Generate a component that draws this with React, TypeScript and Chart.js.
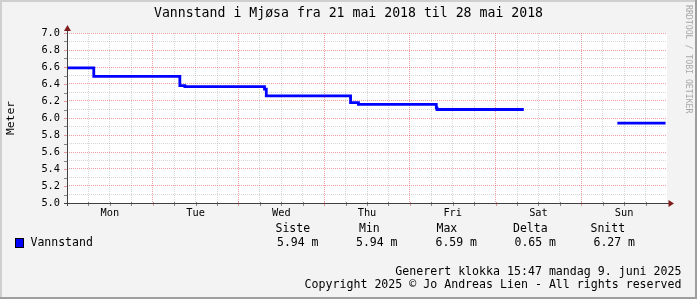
import React, { useEffect, useRef } from "react";
import { Chart, registerables } from "chart.js";

Chart.register(...registerables);

// ---- data (hours since Mon 21 May 2018 00:00) ----
const hours = [0, 7.5, 31.6, 33, 55.3, 55.8, 79.4, 81.6, 103.4, 103.6, 127.9, 128, 154.1, 167.6];
const levels: (number | null)[] = [6.59, 6.49, 6.38, 6.37, 6.34, 6.26, 6.18, 6.16, 6.12, 6.1, 6.1, null, 5.94, 5.94];
const dayLabels = ["Mon", "Tue", "Wed", "Thu", "Fri", "Sat", "Sun"];
const statHeaders = ["Siste", "Min", "Max", "Delta", "Snitt"];
const statValues = ["5.94 m", "5.94 m", "6.59 m", "0.65 m", "6.27 m"];

const title = "Vannstand i Mjøsa fra 21 mai 2018 til 28 mai 2018";
const yTitle = "Meter";
const seriesName = "Vannstand";
const footer1 = "Generert klokka 15:47 mandag 9. juni 2025";
const footer2 = "Copyright 2025 © Jo Andreas Lien - All rights reserved";
const watermark = "RRDTOOL / TOBI OETIKER";

const MONO = '"DejaVu Sans Mono", monospace';
const MINOR = "rgba(140,140,140,0.36)";
const MAJOR = "rgba(210,40,40,0.45)";
const AXIS = "#404040";
const TICK = "rgba(64,64,64,0.6)";
const ARROW = "#801c1c";
const BLANK = "rgba(0,0,0,0)";

const decor = {
  id: "rrdDecor",
  beforeDraw(chart: any) {
    const { ctx, width, height, chartArea: a } = chart;
    ctx.save();
    ctx.fillStyle = "#f3f3f3";
    ctx.fillRect(0, 0, width, height);
    ctx.fillStyle = "#cfcfcf";
    ctx.fillRect(0, 0, width, 2);
    ctx.fillRect(0, 0, 2, height);
    ctx.fillStyle = "#9e9e9e";
    ctx.fillRect(0, height - 2, width, 2);
    ctx.fillRect(width - 2, 0, 2, height);
    ctx.fillStyle = "#ffffff";
    ctx.fillRect(a.left, a.top, a.right - a.left, a.bottom - a.top);
    ctx.restore();
  },
  afterDraw(chart: any) {
    const { ctx, width, chartArea: a } = chart;
    const xs = chart.scales.x;
    const ys = chart.scales.y;
    ctx.save();
    // tick marks
    ctx.lineWidth = 1;
    xs.ticks.forEach((t: any) => {
      const h = Math.round(t.value);
      if (h <= 0 || h >= 168) return;
      const px = Math.round(xs.getPixelForValue(t.value)) + 0.5;
      ctx.strokeStyle = h % 24 === 0 ? MAJOR : TICK;
      ctx.beginPath();
      ctx.moveTo(px, a.bottom - 1);
      ctx.lineTo(px, a.bottom + 3);
      ctx.stroke();
    });
    ys.ticks.forEach((t: any) => {
      const v = Math.round(t.value * 10);
      const py = Math.round(ys.getPixelForValue(t.value)) + 0.5;
      ctx.strokeStyle = v % 2 === 0 ? MAJOR : TICK;
      ctx.beginPath();
      ctx.moveTo(a.left - 3, py);
      ctx.lineTo(a.left + 1, py);
      ctx.stroke();
    });
    // axes
    const ax = Math.round(a.left) + 0.5;
    const ay = Math.round(a.bottom) + 0.5;
    ctx.strokeStyle = AXIS;
    ctx.beginPath();
    ctx.moveTo(a.left - 3, ay);
    ctx.lineTo(a.right + 3, ay);
    ctx.moveTo(ax, a.bottom + 3);
    ctx.lineTo(ax, a.top - 3);
    ctx.stroke();
    // arrows
    ctx.fillStyle = ARROW;
    ctx.beginPath();
    ctx.moveTo(ax, a.top - 8);
    ctx.lineTo(ax - 3.5, a.top - 2);
    ctx.lineTo(ax + 3.5, a.top - 2);
    ctx.closePath();
    ctx.fill();
    ctx.beginPath();
    ctx.moveTo(a.right + 7, ay);
    ctx.lineTo(a.right + 1.5, ay - 3.5);
    ctx.lineTo(a.right + 1.5, ay + 3.5);
    ctx.closePath();
    ctx.fill();

    // title
    ctx.fillStyle = "#000";
    ctx.textBaseline = "middle";
    ctx.textAlign = "center";
    ctx.font = `13.2px ${MONO}`;
    ctx.fillText(title, width / 2, 14);

    // y title
    ctx.save();
    ctx.translate(11, (a.top + a.bottom) / 2);
    ctx.rotate(-Math.PI / 2);
    ctx.font = `11.3px ${MONO}`;
    ctx.fillText(yTitle, 0, 0);
    ctx.restore();

    // watermark
    ctx.save();
    ctx.translate(688, 5);
    ctx.rotate(Math.PI / 2);
    ctx.textAlign = "left";
    ctx.fillStyle = "#a8a8a8";
    ctx.font = `8.2px ${MONO}`;
    ctx.fillText(watermark, 0, 0);
    ctx.restore();

    // legend
    ctx.fillStyle = "#0000ff";
    ctx.fillRect(15.5, 238.5, 8, 9);
    ctx.strokeStyle = "#000";
    ctx.strokeRect(15.5, 238.5, 8, 9);
    ctx.fillStyle = "#000";
    ctx.textAlign = "left";
    ctx.font = `11.5px ${MONO}`;
    ctx.fillText(seriesName, 30.5, 243.3);
    const hx = [275.5, 359, 436.5, 513, 590.5];
    const vx = [277, 356, 435.5, 514.5, 593.5];
    statHeaders.forEach((s, i) => ctx.fillText(s, hx[i], 229.3));
    statValues.forEach((s, i) => ctx.fillText(s, vx[i], 243.3));

    // footer
    ctx.textAlign = "right";
    ctx.font = `11.6px ${MONO}`;
    ctx.fillText(footer1, 681.5, 272.3);
    ctx.fillText(footer2, 681.5, 285.3);
    ctx.restore();
  },
};

export default function App() {
  const ref = useRef<HTMLCanvasElement>(null);
  useEffect(() => {
    document.body.style.margin = "0";
    const canvas = ref.current!;
    const chart = new Chart(canvas, {
      type: "line",
      data: {
        datasets: [
          {
            label: seriesName,
            data: hours.map((h, i) => ({ x: h, y: levels[i] })) as any,
            borderColor: "#0000ff",
            backgroundColor: "#0000ff",
            borderWidth: 2.8,
            pointRadius: 0,
            stepped: true,
            spanGaps: false,
            fill: false,
            borderCapStyle: "butt",
            borderJoinStyle: "miter",
          },
        ],
      },
      options: {
        responsive: false,
        animation: false,
        devicePixelRatio: 1,
        events: [],
        layout: { padding: { top: 33, right: 30, bottom: 0, left: 0 } },
        plugins: { legend: { display: false }, title: { display: false }, tooltip: { enabled: false } },
        scales: {
          x: {
            type: "linear",
            min: 0,
            max: 168,
            afterFit: (s: any) => {
              s.height = 96;
            },
            ticks: {
              stepSize: 6,
              autoSkip: false,
              maxRotation: 0,
              padding: 4,
              color: "#000",
              font: { family: MONO, size: 10.3 },
              callback: (v: any) => {
                const h = Math.round(Number(v));
                return h % 24 === 12 ? dayLabels[(h - 12) / 24] : "";
              },
            },
            grid: {
              drawTicks: false,
              lineWidth: 1,
              color: (c: any) => {
                const h = Math.round(c.tick.value);
                if (h <= 0 || h >= 168) return BLANK;
                return h % 24 === 0 ? MAJOR : MINOR;
              },
            },
            border: { display: false, dash: [1, 1] },
          },
          y: {
            type: "linear",
            min: 5,
            max: 7,
            afterFit: (s: any) => {
              s.width = 67;
            },
            ticks: {
              stepSize: 0.1,
              autoSkip: false,
              padding: 7,
              color: "#000",
              font: { family: MONO, size: 10.3 },
              callback: (v: any) => {
                const n = Math.round(Number(v) * 10);
                return n % 2 === 0 ? (n / 10).toFixed(1) : "";
              },
            },
            grid: {
              drawTicks: false,
              lineWidth: 1,
              color: (c: any) => {
                const n = Math.round(c.tick.value * 10);
                if (n <= 50) return BLANK;
                return n % 2 === 0 ? MAJOR : MINOR;
              },
            },
            border: { display: false, dash: [1, 1] },
          },
        },
      },
      plugins: [decor],
    });
    return () => chart.destroy();
  }, []);
  return (
    <canvas
      ref={ref}
      width={697}
      height={299}
      style={{ display: "block", width: 697, height: 299, position: "absolute", left: 0, top: 0 }}
    />
  );
}
